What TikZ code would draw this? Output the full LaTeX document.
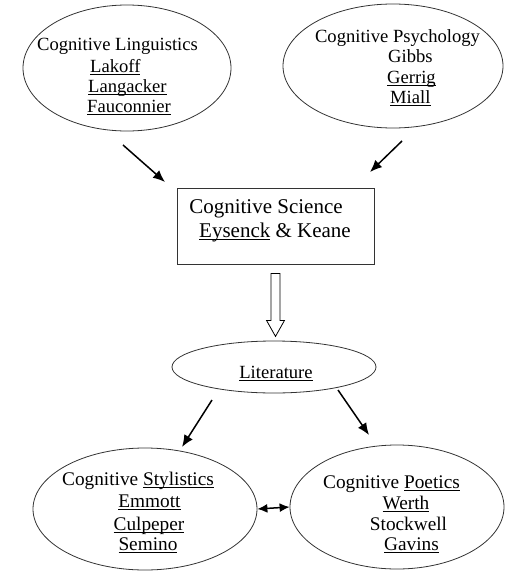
\documentclass[tikz,border=0pt]{standalone}
\usepackage{fontspec}
\setmainfont{Liberation Serif}
\usetikzlibrary{arrows.meta,calc,shapes.geometric}
\newcommand\squig[1]{\leavevmode\setbox0\hbox{#1}\rlap{\rule[-3pt]{\wd0}{0.7pt}}\box0\relax}
\begin{document}
\begin{tikzpicture}[x=1pt,y=-1pt,
  oval/.style={draw=black!80,line width=0.8pt,ellipse,inner sep=0pt},
  lbl/.style={anchor=base,inner sep=0pt,font=\fontsize{18.6}{20}\selectfont},
  lblw/.style={anchor=base west,inner sep=0pt,font=\fontsize{18.6}{20}\selectfont},
  boxlbl/.style={anchor=base,inner sep=0pt,font=\fontsize{21}{24}\selectfont},
  botlbl/.style={anchor=base,inner sep=0pt,font=\fontsize{19.3}{22}\selectfont},
  arr/.style={line width=1.5pt,-{Latex[length=12pt,width=10pt]}},
  darr/.style={line width=1.5pt,{Latex[length=10pt,width=9pt]}-{Latex[length=10pt,width=9pt]}}]
\useasboundingbox (0,0) rectangle (504,573);

% shapes
\node[oval,minimum width=208pt,minimum height=126pt] (ling) at (127,68) {};
\node[oval,minimum width=220pt,minimum height=124pt] (psy) at (393,66) {};
\node[draw=black!80,line width=0.8pt,minimum width=197pt,minimum height=76pt,inner sep=0pt] (sci) at (275.5,226) {};
\node[oval,minimum width=204pt,minimum height=52pt] (lit) at (274,367) {};
\node[oval,minimum width=224pt,minimum height=122pt] (sty) at (145,509) {};
\node[oval,minimum width=214pt,minimum height=124pt] (poe) at (397,507) {};

% texts
\node[lbl] (lingT) at (117.5,50) {Cognitive Linguistics};
\node[lblw] (lingA) at (90,72) {\squig{Lakoff}};
\node[lblw] (lingB) at (88,92) {\squig{Langacker}};
\node[lblw] (lingC) at (87,112) {\squig{Fauconnier}};

\node[lbl] (psyT) at (397.5,42) {Cognitive Psychology};
\node[lblw] (psyA) at (388,62) {Gibbs};
\node[lblw] (psyB) at (387,83) {\squig{Gerrig}};
\node[lblw] (psyC) at (390,103) {\squig{Miall}};

\node[boxlbl] (sciT) at (266,213) {Cognitive Science};
\node[boxlbl] (sciA) at (275,237) {\squig{Eysenck} \& Keane};

\node[lbl] (litT) at (276,378) {\squig{Literature}};

\node[botlbl] (styT) at (138,485) {Cognitive \squig{Stylistics}};
\node[botlbl] (styA) at (149.5,507) {\squig{Emmott}};
\node[botlbl] (styB) at (149,530) {\squig{Culpeper}};
\node[botlbl] (styC) at (148,550) {\squig{Semino}};

\node[botlbl] (poeT) at (391.5,488) {Cognitive \squig{Poetics}};
\node[botlbl] (poeA) at (406,509) {\squig{Werth}};
\node[botlbl] (poeB) at (408.5,530) {Stockwell};
\node[botlbl] (poeC) at (411.5,550) {\squig{Gavins}};

% connectors
\coordinate (a1s) at (123,145); \coordinate (a1e) at (165,182);
\coordinate (a2s) at (402,141); \coordinate (a2e) at (370,172);
\coordinate (a3s) at (212,400); \coordinate (a3e) at (182,447);
\coordinate (a4s) at (338,390); \coordinate (a4e) at (369,435);
\draw[arr] (a1s) -- (a1e);
\draw[arr] (a2s) -- (a2e);
\draw[arr] (a3s) -- (a3e);
\draw[arr] (a4s) -- (a4e);
\draw[darr] (sty.east) -- (poe.west);

% hollow arrow
\draw[line width=0.8pt,fill=white] ($(sci.south)+(-4.5,9)$) -- ++(9,0) -- ++(0,47) -- ++(4.5,0)
  -- ($(sci.south)+(0,72)$) -- ($(sci.south)+(-9,56)$) -- ++(4.5,0) -- cycle;
\end{tikzpicture}
\end{document}
